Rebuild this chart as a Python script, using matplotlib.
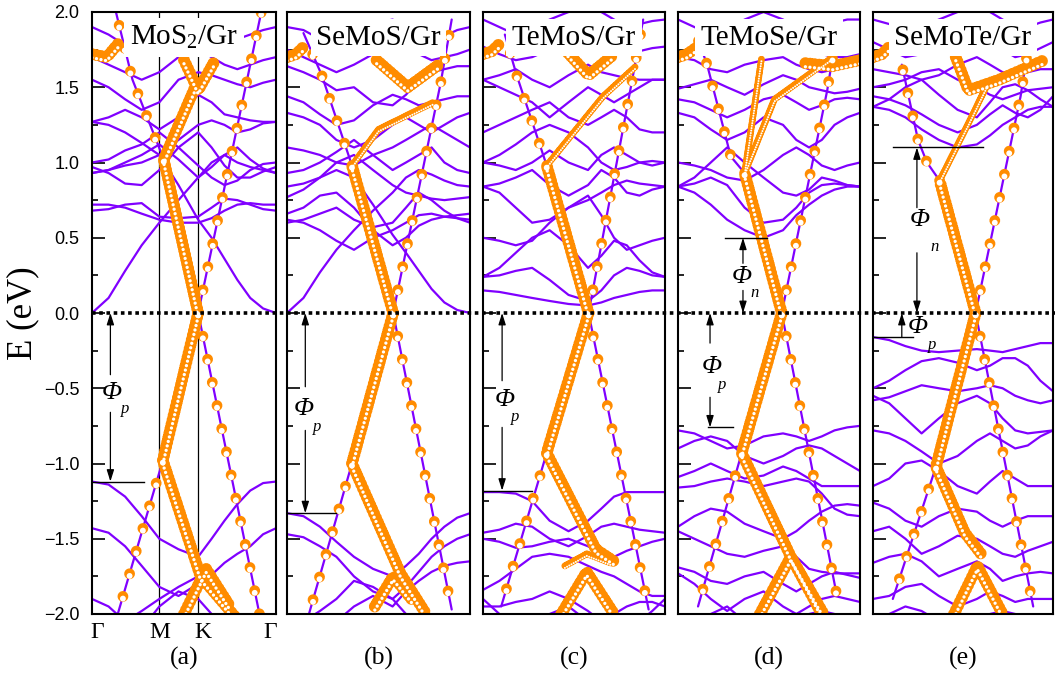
import numpy as np
import matplotlib.pyplot as plt
from matplotlib.lines import Line2D
from matplotlib.ticker import MultipleLocator
from matplotlib.transforms import offset_copy

plt.rcParams['font.family'] = 'Liberation Sans'
plt.rcParams['lines.scale_dashes'] = False
plt.rcParams['mathtext.fontset'] = 'custom'
plt.rcParams['mathtext.rm'] = 'Liberation Serif'
plt.rcParams['mathtext.it'] = 'Liberation Serif:italic'

W, H = 1055, 681
PURPLE = '#8000ff'
ORANGE = '#ff8c00'
SERIF = 'Liberation Serif'

# k path Gamma - M - K - Gamma, total length scaled to 1
K_M = 0.366
K_K = 0.577
KGRID = [0, 0.09, 0.18, 0.27, 0.366, 0.47, 0.577, 0.65, 0.72, 0.79, 0.86, 0.93, 1.0]
KPT_LABELS = ['Γ', 'M', 'K', 'Γ']
KPT_POS = [0.03, 0.37, 0.6, 0.97]

TITLES = ['MoS$_2$/Gr', 'SeMoS/Gr', 'TeMoS/Gr', 'TeMoSe/Gr', 'SeMoTe/Gr']
TAGS = ['(a)', '(b)', '(c)', '(d)', '(e)']
Y_TICKS = [-2.0, -1.5, -1.0, -0.5, 0.0, 0.5, 1.0, 1.5, 2.0]

# purple bands, energies (eV) on KGRID
A_BANDS = [
    [0.0, 0.1, 0.28, 0.45, 0.6, 0.75, 0.9, 1.0, 1.05, 1.0, 0.97, 0.95, 0.93],
    [0.93, 0.95, 0.98, 1.0, 1.05, 0.85, 0.62, 0.5, 0.36, 0.22, 0.1, 0.03, 0.0],
    [0.72, 0.72, 0.7, 0.66, 0.62, 0.6, 0.6, 0.63, 0.68, 0.72, 0.73, 0.72, 0.72],
    [0.68, 0.69, 0.72, 0.73, 0.64, 0.63, 0.64, 0.7, 0.76, 0.75, 0.72, 0.69, 0.68],
    [0.93, 0.95, 1.0, 1.05, 1.12, 1.02, 0.9, 0.97, 1.05, 1.1, 1.02, 0.96, 0.93],
    [0.97, 0.93, 0.86, 0.85, 0.95, 1.1, 1.2, 1.1, 0.98, 0.9, 0.9, 0.94, 0.97],
    [1.0, 1.02, 1.08, 1.12, 1.2, 1.1, 0.98, 0.9, 0.85, 0.88, 0.95, 0.99, 1.0],
    [1.27, 1.25, 1.2, 1.13, 1.05, 1.15, 1.25, 1.28, 1.25, 1.2, 1.22, 1.26, 1.27],
    [1.27, 1.3, 1.35, 1.3, 1.22, 1.3, 1.45, 1.4, 1.32, 1.3, 1.28, 1.27, 1.27],
    [1.55, 1.5, 1.42, 1.35, 1.4, 1.55, 1.6, 1.58, 1.55, 1.52, 1.5, 1.53, 1.55],
    [1.7, 1.65, 1.6, 1.55, 1.6, 1.7, 1.75, 1.7, 1.65, 1.62, 1.65, 1.68, 1.7],
    [1.9, 1.85, 1.78, 1.72, 1.8, 1.9, 1.95, 1.9, 1.85, 1.82, 1.85, 1.88, 1.9],
    [-1.12, -1.14, -1.22, -1.35, -1.5, -1.57, -1.62, -1.5, -1.38, -1.27, -1.18, -1.13, -1.12],
    [-1.43, -1.46, -1.55, -1.68, -1.82, -1.88, -1.8, -1.74, -1.66, -1.6, -1.55, -1.47, -1.43],
    [-2.2, -2.15, -2.05, -1.98, -1.9, -1.82, -1.75, -1.85, -1.95, -2.05, -2.1, -2.15, -2.2],
    [-1.9, -1.95, -2.05, -2.1, -1.95, -1.85, -1.9, -2.0, -2.1, -2.2, -2.2, -2.2, -2.2],
]
B_BANDS = [
    [0.0, 0.1, 0.27, 0.42, 0.55, 0.68, 0.8, 0.9, 0.95, 0.92, 0.88, 0.85, 0.84],
    [0.84, 0.86, 0.9, 0.95, 0.9, 0.72, 0.52, 0.4, 0.28, 0.16, 0.07, 0.02, 0.0],
    [0.62, 0.6, 0.55, 0.48, 0.42, 0.5, 0.55, 0.6, 0.65, 0.66, 0.64, 0.63, 0.62],
    [0.66, 0.7, 0.78, 0.8, 0.7, 0.55, 0.45, 0.5, 0.58, 0.62, 0.64, 0.65, 0.66],
    [0.6, 0.62, 0.66, 0.7, 0.62, 0.57, 0.6, 0.7, 0.8, 0.75, 0.68, 0.63, 0.6],
    [0.77, 0.82, 0.9, 1.0, 1.05, 0.95, 0.85, 0.8, 0.78, 0.76, 0.75, 0.76, 0.77],
    [0.93, 0.95, 1.0, 1.07, 1.15, 1.05, 0.95, 1.0, 1.05, 1.1, 1.0, 0.95, 0.93],
    [1.1, 1.08, 1.05, 1.0, 0.98, 1.05, 1.1, 1.15, 1.2, 1.25, 1.2, 1.15, 1.1],
    [1.33, 1.3, 1.25, 1.15, 1.1, 1.15, 1.25, 1.3, 1.25, 1.2, 1.25, 1.3, 1.33],
    [1.44, 1.4, 1.32, 1.25, 1.28, 1.38, 1.45, 1.42, 1.38, 1.4, 1.42, 1.44, 1.44],
    [1.64, 1.6, 1.55, 1.48, 1.5, 1.4, 1.38, 1.45, 1.55, 1.6, 1.62, 1.64, 1.64],
    [1.75, 1.7, 1.65, 1.6, 1.65, 1.72, 1.8, 1.78, 1.72, 1.68, 1.7, 1.72, 1.75],
    [1.9, 1.88, 1.82, 1.78, 1.85, 1.92, 1.95, 1.9, 1.85, 1.82, 1.84, 1.88, 1.9],
    [-1.33, -1.35, -1.42, -1.52, -1.62, -1.7, -1.75, -1.68, -1.6, -1.5, -1.42, -1.36, -1.33],
    [-1.47, -1.49, -1.55, -1.62, -1.75, -1.85, -1.9, -1.82, -1.72, -1.62, -1.55, -1.5, -1.47],
    [-2.1, -2.05, -1.98, -1.9, -1.78, -1.82, -1.9, -2.0, -2.05, -2.1, -2.1, -2.1, -2.1],
    [-2.2, -2.2, -2.15, -2.05, -1.95, -1.88, -1.95, -1.85, -1.78, -1.72, -1.68, -1.66, -1.65],
]
C_BANDS = [
    [0.15, 0.14, 0.12, 0.1, 0.08, 0.06, 0.05, 0.07, 0.1, 0.12, 0.14, 0.15, 0.15],
    [0.24, 0.25, 0.28, 0.3, 0.22, 0.12, 0.08, 0.15, 0.25, 0.3, 0.28, 0.25, 0.24],
    [0.24, 0.3, 0.4, 0.5, 0.55, 0.45, 0.3, 0.38, 0.48, 0.45, 0.35, 0.27, 0.24],
    [0.5, 0.48, 0.45, 0.48, 0.6, 0.7, 0.78, 0.65, 0.5, 0.42, 0.45, 0.48, 0.5],
    [0.84, 0.8, 0.7, 0.6, 0.62, 0.7, 0.75, 0.8, 0.85, 0.88, 0.86, 0.85, 0.84],
    [0.84, 0.86, 0.9, 0.95, 0.85, 0.78, 0.85, 0.95, 0.9, 0.8, 0.78, 0.82, 0.84],
    [1.0, 0.98, 0.95, 1.0, 1.08, 1.0, 0.95, 1.05, 1.1, 1.05, 1.0, 0.98, 1.0],
    [1.0, 1.05, 1.12, 1.2, 1.25, 1.2, 1.1, 1.0, 0.95, 0.97, 1.0, 1.01, 1.0],
    [1.2, 1.25, 1.3, 1.35, 1.4, 1.3, 1.25, 1.3, 1.35, 1.3, 1.22, 1.2, 1.2],
    [1.55, 1.5, 1.45, 1.4, 1.3, 1.4, 1.5, 1.45, 1.4, 1.45, 1.5, 1.55, 1.55],
    [1.55, 1.58, 1.62, 1.55, 1.5, 1.58, 1.65, 1.6, 1.58, 1.56, 1.55, 1.55, 1.55],
    [1.77, 1.72, 1.68, 1.7, 1.75, 1.8, 1.85, 1.8, 1.75, 1.72, 1.74, 1.76, 1.77],
    [1.95, 1.9, 1.85, 1.88, 1.95, 2.0, 2.05, 2.0, 1.95, 1.9, 1.92, 1.94, 1.95],
    [-1.19, -1.19, -1.2, -1.25, -1.38, -1.45, -1.38, -1.3, -1.22, -1.19, -1.19, -1.19, -1.19],
    [-1.46, -1.44, -1.4, -1.42, -1.5, -1.55, -1.48, -1.42, -1.4, -1.42, -1.44, -1.45, -1.46],
    [-1.5, -1.52, -1.56, -1.55, -1.52, -1.5, -1.55, -1.6, -1.62, -1.58, -1.55, -1.52, -1.5],
    [-1.84, -1.78, -1.7, -1.62, -1.6, -1.62, -1.68, -1.72, -1.75, -1.8, -1.85, -1.88, -1.88],
    [-1.95, -1.95, -1.92, -1.9, -1.85, -1.9, -1.98, -2.05, -2.0, -1.95, -1.92, -1.92, -1.95],
    [-1.9, -2.0, -2.1, -2.15, -2.0, -1.95, -2.05, -2.1, -2.1, -2.1, -2.05, -1.98, -1.9],
]
D_BANDS = [
    [0.84, 0.8, 0.72, 0.62, 0.55, 0.5, 0.55, 0.65, 0.72, 0.78, 0.82, 0.84, 0.84],
    [0.84, 0.86, 0.9, 0.85, 0.7, 0.6, 0.62, 0.7, 0.8, 0.85, 0.86, 0.85, 0.84],
    [0.84, 0.9, 1.0, 1.1, 1.0, 0.9, 0.8, 0.78, 0.82, 0.9, 0.88, 0.85, 0.84],
    [1.0, 0.98, 0.95, 0.9, 0.88, 0.95, 1.05, 1.1, 1.05, 0.98, 0.95, 0.98, 1.0],
    [1.33, 1.3, 1.22, 1.15, 1.2, 1.3, 1.25, 1.15, 1.1, 1.15, 1.25, 1.3, 1.33],
    [1.42, 1.4, 1.35, 1.3, 1.35, 1.42, 1.45, 1.4, 1.35, 1.38, 1.42, 1.43, 1.42],
    [1.49, 1.52, 1.55, 1.5, 1.45, 1.52, 1.58, 1.55, 1.5, 1.48, 1.46, 1.47, 1.49],
    [1.7, 1.68, 1.62, 1.6, 1.65, 1.68, 1.7, 1.65, 1.62, 1.6, 1.62, 1.66, 1.7],
    [1.72, 1.75, 1.8, 1.82, 1.75, 1.72, 1.78, 1.8, 1.75, 1.72, 1.7, 1.7, 1.72],
    [1.95, 1.9, 1.85, 1.88, 1.95, 2.0, 1.95, 1.9, 1.88, 1.9, 1.93, 1.95, 1.95],
    [-0.78, -0.8, -0.85, -0.9, -0.88, -0.82, -0.8, -0.82, -0.85, -0.82, -0.78, -0.76, -0.75],
    [-0.9, -0.85, -0.82, -0.85, -0.95, -1.0, -0.95, -0.9, -0.88, -0.9, -0.95, -1.0, -1.05],
    [-1.09, -1.05, -1.0, -1.05, -1.1, -1.08, -1.02, -1.05, -1.1, -1.15, -1.15, -1.15, -1.15],
    [-1.16, -1.15, -1.12, -1.1, -1.12, -1.15, -1.12, -1.1, -1.12, -1.2, -1.3, -1.34, -1.35],
    [-1.42, -1.35, -1.3, -1.32, -1.4, -1.45, -1.5, -1.45, -1.38, -1.32, -1.28, -1.27, -1.28],
    [-1.45, -1.5, -1.55, -1.6, -1.62, -1.58, -1.55, -1.62, -1.7, -1.72, -1.73, -1.73, -1.73],
    [-1.69, -1.72, -1.78, -1.8, -1.75, -1.72, -1.8, -1.85, -1.8, -1.75, -1.72, -1.74, -1.76],
    [-1.73, -1.8, -1.9, -1.98, -1.9, -1.85, -1.95, -2.0, -1.95, -1.9, -1.88, -1.9, -1.92],
    [-2.1, -2.05, -2.0, -1.95, -2.05, -2.1, -2.1, -2.05, -2.0, -1.98, -2.0, -2.05, -2.1],
]
E_BANDS = [
    [1.37, 1.35, 1.3, 1.22, 1.15, 1.1, 1.12, 1.18, 1.25, 1.3, 1.35, 1.37, 1.37],
    [1.44, 1.42, 1.38, 1.32, 1.25, 1.2, 1.25, 1.32, 1.38, 1.33, 1.3, 1.35, 1.44],
    [1.37, 1.42, 1.5, 1.55, 1.45, 1.35, 1.3, 1.4, 1.5, 1.52, 1.48, 1.42, 1.37],
    [1.5, 1.52, 1.55, 1.6, 1.62, 1.55, 1.5, 1.45, 1.42, 1.45, 1.48, 1.49, 1.5],
    [1.62, 1.6, 1.58, 1.55, 1.58, 1.65, 1.7, 1.65, 1.6, 1.58, 1.6, 1.62, 1.62],
    [1.8, 1.75, 1.7, 1.72, 1.78, 1.85, 1.88, 1.82, 1.75, 1.7, 1.72, 1.76, 1.8],
    [1.95, 1.92, 1.88, 1.9, 1.95, 2.0, 2.05, 2.0, 1.95, 1.9, 1.9, 1.93, 1.95],
    [-0.16, -0.18, -0.22, -0.25, -0.26, -0.25, -0.24, -0.25, -0.26, -0.24, -0.22, -0.2, -0.2],
    [-0.5, -0.45, -0.38, -0.32, -0.3, -0.33, -0.38, -0.35, -0.3, -0.3, -0.35, -0.45, -0.52],
    [-0.58, -0.56, -0.52, -0.48, -0.5, -0.52, -0.5, -0.48, -0.5, -0.55, -0.58, -0.6, -0.58],
    [-0.55, -0.6, -0.7, -0.8, -0.7, -0.6, -0.55, -0.6, -0.7, -0.78, -0.8, -0.79, -0.78],
    [-0.78, -0.8, -0.85, -0.92, -1.0, -0.95, -0.85, -0.8, -0.85, -0.9, -0.88, -0.82, -0.78],
    [-1.15, -1.1, -1.0, -0.98, -1.05, -1.15, -1.2, -1.12, -1.05, -1.1, -1.15, -1.15, -1.15],
    [-1.26, -1.3, -1.38, -1.42, -1.35, -1.3, -1.32, -1.38, -1.42, -1.38, -1.35, -1.35, -1.35],
    [-1.45, -1.42, -1.5, -1.6, -1.55, -1.48, -1.5, -1.55, -1.6, -1.62, -1.58, -1.55, -1.52],
    [-1.66, -1.62, -1.6, -1.65, -1.75, -1.7, -1.65, -1.7, -1.78, -1.75, -1.73, -1.72, -1.73],
    [-1.9, -1.88, -1.82, -1.8, -1.88, -1.95, -1.9, -1.85, -1.88, -1.92, -1.9, -1.9, -1.9],
    [-2.1, -2.0, -1.95, -1.98, -2.05, -2.1, -2.05, -2.0, -1.98, -2.0, -2.05, -2.05, -2.1],
]

# graphene-weighted branches (orange balls): (kind, k nodes, E nodes)
A_GR = [
    ('dense', [0.577, 0.39, 0.56], [0.0, 1.02, 1.5]),
    ('dense', [0.577, 0.385, 0.59, 0.8], [0.0, -0.98, -1.75, -2.05]),
    ('sparse', [0.577, 0.92], [0.0, 2.0]),
    ('sparse', [0.577, 0.91], [0.0, -2.0]),
    ('sparse', [0.39, 0.22, 0.13], [1.02, 1.55, 2.0]),
    ('sparse', [0.385, 0.14], [-0.98, -2.0]),
    ('dense', [0.5, 0.577, 0.66], [1.68, 1.48, 1.66]),
    ('dense', [0.5, 0.62, 0.75], [-2.0, -1.7, -1.95]),
    ('dense', [0.0, 0.08, 0.15], [1.72, 1.7, 1.8]),
]
B_GR = [
    ('dense', [0.58, 0.355], [0.0, 0.98]),
    ('fine', [0.355, 0.5, 0.8], [0.98, 1.22, 1.4]),
    ('dense', [0.49, 0.66, 0.84], [1.68, 1.5, 1.66]),
    ('sparse', [0.58, 0.84, 0.9], [0.0, 1.53, 1.95]),
    ('sparse', [0.58, 0.9], [0.0, -1.97]),
    ('sparse', [0.355, 0.19, 0.09], [0.98, 1.58, 1.86]),
    ('dense', [0.58, 0.355, 0.62, 0.76], [0.0, -1.0, -1.73, -2.0]),
    ('sparse', [0.355, 0.12], [-1.0, -2.0]),
    ('dense', [0.48, 0.58, 0.68], [-1.95, -1.75, -1.9]),
    ('dense', [0.0, 0.05, 0.1], [1.7, 1.72, 1.78]),
]
C_GR = [
    ('dense', [0.58, 0.35], [0.0, 0.98]),
    ('fine', [0.35, 0.66, 0.84], [0.98, 1.44, 1.64]),
    ('dense', [0.45, 0.58, 0.72], [1.75, 1.58, 1.72]),
    ('sparse', [0.58, 0.82, 0.88], [0.0, 1.55, 1.95]),
    ('sparse', [0.58, 0.91], [0.0, -1.97]),
    ('sparse', [0.35, 0.185, 0.12], [0.98, 1.58, 1.85]),
    ('dense', [0.58, 0.35, 0.62, 0.72], [0.0, -0.93, -1.57, -1.65]),
    ('sparse', [0.35, 0.1], [-0.93, -1.95]),
    ('dense', [0.43, 0.57, 0.72], [-2.0, -1.72, -2.0]),
    ('fine', [0.45, 0.57, 0.7], [-1.68, -1.6, -1.66]),
    ('dense', [0.0, 0.05, 0.1], [1.72, 1.74, 1.8]),
]
D_GR = [
    ('dense', [0.57, 0.366], [0.0, 0.93]),
    ('fine', [0.366, 0.46], [0.93, 1.7]),
    ('fine', [0.366, 0.53, 0.85], [0.93, 1.42, 1.7]),
    ('sparse', [0.57, 0.82, 0.87], [0.0, 1.48, 1.85]),
    ('sparse', [0.57, 0.87], [0.0, -1.86]),
    ('sparse', [0.366, 0.29, 0.16, 0.1], [0.93, 1.04, 1.65, 1.85]),
    ('dense', [0.57, 0.35, 0.62, 0.79], [0.0, -0.93, -1.62, -2.0]),
    ('sparse', [0.35, 0.11], [-0.93, -1.95]),
    ('dense', [0.45, 0.62, 0.8], [-2.0, -1.62, -2.0]),
    ('dense', [0.0, 0.05, 0.12], [1.7, 1.72, 1.78]),
    ('dense', [0.7, 0.85, 1.0], [1.66, 1.64, 1.68]),
]
E_GR = [
    ('dense', [0.57, 0.37], [0.0, 0.88]),
    ('fine', [0.37, 0.53, 0.64], [0.88, 1.26, 1.53]),
    ('dense', [0.46, 0.53, 0.7, 0.95], [1.7, 1.48, 1.55, 1.68]),
    ('sparse', [0.57, 0.82, 0.86], [0.0, 1.44, 1.75]),
    ('sparse', [0.57, 0.89], [0.0, -1.95]),
    ('sparse', [0.37, 0.3, 0.25, 0.16], [0.88, 1.0, 1.15, 1.65]),
    ('dense', [0.57, 0.35, 0.51, 0.6], [0.0, -1.02, -1.46, -1.6]),
    ('sparse', [0.35, 0.11], [-1.02, -1.9]),
    ('dense', [0.45, 0.58, 0.72], [-2.0, -1.68, -2.0]),
    ('dense', [0.0, 0.05, 0.1], [1.7, 1.72, 1.78]),
]

# Schottky barrier marks: (sub, k arrow, upper E, lower E, up-arrow start, down-arrow start,
#                           E of Phi, k of Phi, k sub, E sub, line k0, line k1, line E)
A_PHI = [('p', 0.10, 0.0, -1.12, -0.41, -0.66, -0.53, 0.11, 0.18, -0.64, 0.0, 0.28, -1.12)]
B_PHI = [('p', 0.10, 0.0, -1.33, -0.49, -0.78, -0.64, 0.09, 0.165, -0.76, 0.0, 0.27, -1.33)]
C_PHI = [('p', 0.105, 0.0, -1.18, -0.45, -0.76, -0.58, 0.12, 0.175, -0.69, 0.0, 0.27, -1.18)]
D_PHI = [('n', 0.357, 0.5, 0.0, 0.33, 0.15, 0.24, 0.35, 0.42, 0.13, 0.26, 0.49, 0.5),
         ('p', 0.176, 0.0, -0.76, -0.2, -0.56, -0.36, 0.187, 0.245, -0.48, 0.165, 0.30, -0.76)]
E_PHI = [('n', 0.244, 1.1, 0.0, 0.7, 0.4, 0.62, 0.26, 0.34, 0.44, 0.11, 0.61, 1.1),
         ('p', 0.16, 0.0, -0.16, -0.16, None, -0.09, 0.25, 0.33, -0.21, 0.0, 0.22, -0.16)]

PANEL_PX = [(92, 276), (287, 470), (483, 665), (678, 860), (873, 1053)]
ALL_BANDS = [A_BANDS, B_BANDS, C_BANDS, D_BANDS, E_BANDS]
ALL_GR = [A_GR, B_GR, C_GR, D_GR, E_GR]
ALL_PHI = [A_PHI, B_PHI, C_PHI, D_PHI, E_PHI]

# ball size (pt), spacing along the line (pt), white spot size and drop (fraction of size)
BALL = {'sparse': (7.8, 17.0, 0.55, 0.2),
        'dense': (8.6, 3.3, 0.28, 0.3),
        'fine': (5.0, 1.8, 0.3, 0.3)}

Y_TOP, Y_BOT = 12, 614

fig = plt.figure(figsize=(W / 100, H / 100), dpi=100)


def balls(ax, k, e, kind):
    d, gap, wf, drop = BALL[kind]
    ax.plot(k, e, color=PURPLE, lw=1.6, zorder=3, solid_capstyle='round')
    ax.plot(k, e, ls=(0, (0.001, gap)), lw=d, color=ORANGE,
            dash_capstyle='round', zorder=4)
    tr = offset_copy(ax.transData, fig=fig, x=0, y=-drop * d, units='points')
    ax.plot(k, e, ls=(0, (0.001, gap)), lw=wf * d, color='white',
            dash_capstyle='round', transform=tr, zorder=5)


def arrow(ax, k, e0, e1):
    ax.annotate('', xy=(k, e1), xytext=(k, e0), zorder=12,
                arrowprops=dict(arrowstyle='-|>,head_length=0.7,head_width=0.22',
                                color='k', lw=0.9, shrinkA=0, shrinkB=0,
                                mutation_scale=10))


for i, (x0, x1) in enumerate(PANEL_PX):
    ax = fig.add_axes([x0 / W, 1 - Y_BOT / H, (x1 - x0) / W, (Y_BOT - Y_TOP) / H])
    ax.set_xlim(0, 1)
    ax.set_ylim(-2, 2)

    for band in ALL_BANDS[i]:
        ax.plot(KGRID, band, color=PURPLE, lw=1.6, zorder=2)
    for kind, k, e in ALL_GR[i]:
        balls(ax, k, e, kind)

    ax.set_yticks(Y_TICKS)
    ax.yaxis.set_minor_locator(MultipleLocator(0.25))
    ax.tick_params(axis='y', which='major', direction='in', length=9, width=1.2,
                   pad=9, labelsize=13)
    ax.tick_params(axis='y', which='minor', direction='in', length=4.5, width=1.2)
    if i > 0:
        ax.set_yticklabels([])
    ax.set_xticks([])
    for sp in ax.spines.values():
        sp.set_linewidth(1.5)
        sp.set_zorder(20)

    if i == 0:
        ax.axvline(K_M, color='k', lw=0.9, zorder=1.5)
        ax.axvline(K_K, color='k', lw=0.9, zorder=1.5)
        for lab, kp in zip(KPT_LABELS, KPT_POS):
            ax.text(kp, -2.05, lab, ha='center', va='top', fontsize=17,
                    family=SERIF, clip_on=False)

    ax.text(0.5, 1.83, TITLES[i], ha='center', va='center', fontsize=21,
            family=SERIF, zorder=15,
            bbox=dict(facecolor='white', edgecolor='none', pad=4))
    ax.text(0.5, -2.22, TAGS[i], ha='center', va='top', fontsize=18.5,
            family=SERIF, clip_on=False)

    for (sub, ka, up, lo, eu, ed, et, kt, ks, es, l0, l1, le) in ALL_PHI[i]:
        ax.plot([l0, l1], [le, le], color='k', lw=1.0, zorder=12)
        arrow(ax, ka, eu, up)
        if ed is not None:
            arrow(ax, ka, ed, lo)
        ax.text(kt, et, 'Φ', ha='center', va='center', fontsize=19,
                family=SERIF, style='italic', zorder=13)
        ax.text(ks, es, sub, ha='center', va='center', fontsize=12,
                family=SERIF, style='italic', zorder=13)

# Fermi level, dotted across all panels
fig.add_artist(Line2D([92 / W, 1.0], [1 - 313 / H, 1 - 313 / H], color='k',
                      lw=2.6, ls=(0, (2.6, 2.6)), zorder=30))

fig.text(23 / W, 1 - 313 / H, 'E (eV)', rotation=90, ha='center', va='center',
         fontsize=25, family=SERIF)

fig.savefig('out.png', dpi=100)
